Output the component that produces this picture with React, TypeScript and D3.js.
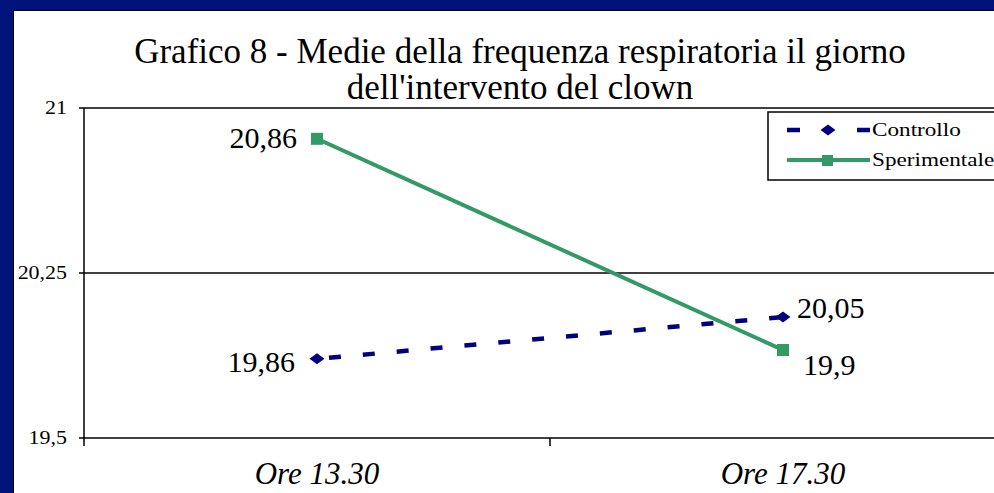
import React from "react";
import * as d3 from "d3";

const categories = ["Ore 13.30", "Ore 17.30"];
const controllo = [19.86, 20.05];
const sperimentale = [20.86, 19.9];
const yTicks = [19.5, 20.25, 21];
const yTickLabels = ["19,5", "20,25", "21"];
const titleLines = [
  "Grafico 8 - Medie della frequenza respiratoria il giorno",
  "dell'intervento del clown",
];
const seriesNames = ["Controllo", "Sperimentale"];

const W = 994;
const H = 493;
const NAVY = "#000080";
const GREEN = "#339966";
const FRAME = "#00137c";
const FONT = "Liberation Serif, Times New Roman, Times, DejaVu Serif, serif";

const fmt = (v: number) => String(v).replace(".", ",");

function diamondPath(w: number, h: number) {
  const p = d3.path();
  p.moveTo(0, -h / 2);
  p.lineTo(w / 2, 0);
  p.lineTo(0, h / 2);
  p.lineTo(-w / 2, 0);
  p.closePath();
  return p.toString();
}

export default function App() {
  const x = d3.scaleBand<string>().domain(categories).range([84, 1016]).padding(0);
  const y = d3.scaleLinear().domain([19.5, 21]).range([438, 108]);
  const cx = (c: string) => (x(c) as number) + x.bandwidth() / 2;

  const line = d3
    .line<number>()
    .x((_, i) => cx(categories[i]))
    .y((d) => y(d));

  const diamond = diamondPath(15, 11);

  const ctrlLabel: [string, number, number][] = [
    ["end", -22, 13],
    ["start", 14, 1],
  ];
  const sperLabel: [string, number, number][] = [
    ["end", -20, 9],
    ["start", 20, 25],
  ];

  const tStyle = { fontFamily: FONT } as React.CSSProperties;
  const SX = 1.22;

  return (
    <div style={{ position: "absolute", left: 0, top: 0 }}>
      <svg width={W} height={H} style={{ display: "block", fontFamily: FONT }}>
        <rect x={0} y={0} width={W} height={H} fill={FRAME} />
        <rect x={13} y={10} width={W} height={H} fill="#000" />
        <rect x={14} y={11} width={W} height={H} fill="#fff" />

        {titleLines.map((t, i) => (
          <text
            key={i}
            x={520}
            y={63 + i * 36}
            textAnchor="middle"
            style={tStyle}
            fontSize={35}
            fill="#000"
          >
            {t}
          </text>
        ))}

        {yTicks.map((t, i) => (
          <g key={i}>
            <line x1={79} x2={W} y1={y(t)} y2={y(t)} stroke="#000" strokeWidth={1.5} />
            <text
              transform={`translate(67,${y(t) + 6}) scale(${SX},1)`}
              textAnchor="end"
              style={tStyle}
              fontSize={18}
              fill="#000"
            >
              {yTickLabels[i]}
            </text>
          </g>
        ))}
        <line x1={84} x2={84} y1={108} y2={446} stroke="#000" strokeWidth={1.5} />
        {categories.slice(1).map((c) => (
          <line
            key={c}
            x1={x(c) as number}
            x2={x(c) as number}
            y1={438}
            y2={446}
            stroke="#000"
            strokeWidth={1.5}
          />
        ))}
        {categories.map((c) => (
          <text
            key={c}
            x={cx(c)}
            y={484}
            textAnchor="middle"
            style={tStyle}
            fontStyle="italic"
            fontSize={31}
            fill="#000"
          >
            {c}
          </text>
        ))}

        <path
          d={line(controllo) as string}
          fill="none"
          stroke={NAVY}
          strokeWidth={4.5}
          strokeDasharray="12 22"
          strokeDashoffset={-12}
        />
        {controllo.map((v, i) => (
          <path
            key={i}
            d={diamond}
            transform={`translate(${cx(categories[i])},${y(v)})`}
            fill={NAVY}
          />
        ))}
        <path d={line(sperimentale) as string} fill="none" stroke={GREEN} strokeWidth={4} />
        {sperimentale.map((v, i) => (
          <rect
            key={i}
            x={cx(categories[i]) - 6}
            y={y(v) - 6}
            width={12}
            height={12}
            fill={GREEN}
          />
        ))}

        {controllo.map((v, i) => (
          <text
            key={"c" + i}
            x={cx(categories[i]) + ctrlLabel[i][1]}
            y={y(v) + ctrlLabel[i][2]}
            textAnchor={ctrlLabel[i][0] as any}
            style={tStyle}
            fontSize={30}
            fill="#000"
          >
            {fmt(v)}
          </text>
        ))}
        {sperimentale.map((v, i) => (
          <text
            key={"s" + i}
            x={cx(categories[i]) + sperLabel[i][1]}
            y={y(v) + sperLabel[i][2]}
            textAnchor={sperLabel[i][0] as any}
            style={tStyle}
            fontSize={30}
            fill="#000"
          >
            {fmt(v)}
          </text>
        ))}

        <rect x={768} y={112} width={260} height={68} fill="#fff" stroke="#000" strokeWidth={1.5} />
        <line
          x1={787}
          x2={870}
          y1={130}
          y2={130}
          stroke={NAVY}
          strokeWidth={4.5}
          strokeDasharray="13 57"
        />
        <path d={diamond} transform="translate(828,130)" fill={NAVY} />
        <line x1={787} x2={870} y1={160} y2={160} stroke={GREEN} strokeWidth={4} />
        <rect x={822} y={155} width={11} height={11} fill={GREEN} />
        {seriesNames.map((s, i) => (
          <text
            key={s}
            transform={`translate(872,${136 + i * 30}) scale(${SX},1)`}
            style={tStyle}
            fontSize={19}
            fill="#000"
          >
            {s}
          </text>
        ))}
      </svg>
    </div>
  );
}
